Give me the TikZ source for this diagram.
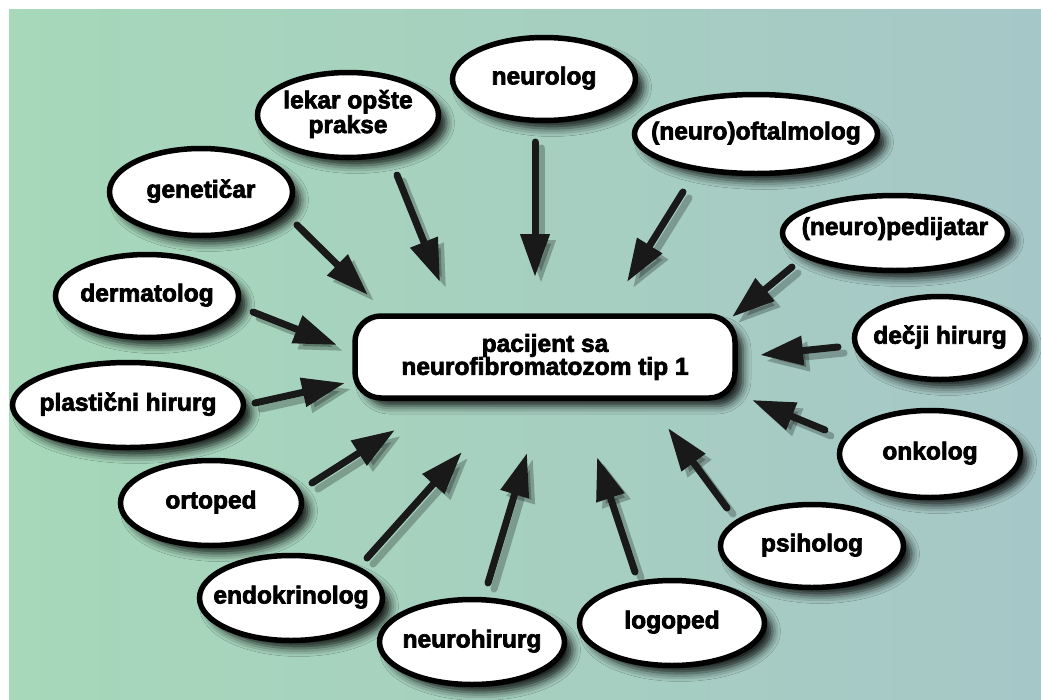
\documentclass[tikz,border=0pt]{standalone}
\usepackage{fontspec}
\setmainfont{Liberation Sans}
\usetikzlibrary{shapes.geometric,arrows.meta,shadows.blur}
\definecolor{bgL}{RGB}{166,216,185}
\definecolor{bgR}{RGB}{166,199,199}
\newcommand\heavyon{\special{pdf:literal direct 2 Tr 0.7 w}}
\newcommand\heavyoff{\special{pdf:literal direct 0 Tr}}
\newcommand\zw[1]{\makebox[0pt]{\begin{tabular}{@{}c@{}}#1\end{tabular}}}
\begin{document}
\begin{tikzpicture}[x=1pt,y=-1pt,
  lab/.style={font=\fontsize{24.5}{23}\selectfont\bfseries, align=center, text=black,
    execute at begin node=\heavyon, execute at end node=\heavyoff},
  ell/.style={lab, ellipse, draw=black, line width=5.5pt, fill=white, inner sep=0pt,
    blur shadow={shadow xshift=8pt, shadow yshift=-8pt, shadow blur radius=8pt, shadow opacity=85}},
  centerbox/.style={lab, rectangle, rounded corners=26pt, draw=black, line width=5.5pt, fill=white,
    inner sep=0pt, minimum width=380pt, minimum height=82pt,
    blur shadow={shadow xshift=8pt, shadow yshift=-8pt, shadow blur radius=8pt, shadow opacity=85}},
  arr/.style={line width=7pt, line cap=round, draw=black!90, -{Triangle[length=43pt,width=28pt]}},
  arrshade/.style={arr, draw=black, opacity=0.25, transform canvas={shift={(6,6)}}}
]
\useasboundingbox (0,0) rectangle (1041,699);
\fill[white] (0,0) rectangle (1041,699);
\shade[left color=bgL, right color=bgR] (9,9) rectangle (1041,699);

% arrow end points
\coordinate (s1) at (297,225);  \coordinate (e1) at (368,295);
\coordinate (s2) at (397,175);  \coordinate (e2) at (440,282);
\coordinate (s3) at (535,142);  \coordinate (e3) at (535,277);
\coordinate (s4) at (683,192);  \coordinate (e4) at (627,282);
\coordinate (s5) at (792,267);  \coordinate (e5) at (732,317);
\coordinate (s6) at (838,347);  \coordinate (e6) at (760,355);
\coordinate (s7) at (825,430);  \coordinate (e7) at (752,400);
\coordinate (s8) at (727,508);  \coordinate (e8) at (668,428);
\coordinate (s9) at (635,572);  \coordinate (e9) at (597,457);
\coordinate (s10) at (488,583); \coordinate (e10) at (527,453);
\coordinate (s11) at (367,558); \coordinate (e11) at (462,452);
\coordinate (s12) at (312,483); \coordinate (e12) at (395,430);
\coordinate (s13) at (255,403); \coordinate (e13) at (345,383);
\coordinate (s14) at (253,312); \coordinate (e14) at (337,345);

\foreach \i in {1,...,14} { \draw[arrshade] (s\i) -- (e\i); }
\foreach \i in {1,...,14} { \draw[arr] (s\i) -- (e\i); }

\node[centerbox] (pac) at (545,357) {pacijent sa\\neurofibromatozom tip 1};

\node[ell, minimum width=183pt, minimum height=87pt] (gen) at (201,192) {\zw{genetičar}};
\node[ell, minimum width=181pt, minimum height=85pt] (lek) at (348,115) {\zw{lekar opšte\\prakse}};
\node[ell, minimum width=183pt, minimum height=83pt] (neu) at (544,79) {\zw{neurolog}};
\node[ell, minimum width=243pt, minimum height=79pt] (oft) at (756,134) {\zw{(neuro)oftalmolog}};
\node[ell, minimum width=225pt, minimum height=75pt] (ped) at (895,233) {\zw{\raisebox{7pt}{(neuro)pedijatar}}};
\node[ell, minimum width=171pt, minimum height=83pt] (dec) at (940,338) {\zw{dečji hirurg}};
\node[ell, minimum width=181pt, minimum height=87pt] (onk) at (930,454) {\zw{onkolog}};
\node[ell, minimum width=183pt, minimum height=83pt] (psi) at (812,546) {\zw{psiholog}};
\node[ell, minimum width=185pt, minimum height=85pt] (log) at (672,623) {\zw{logoped}};
\node[ell, minimum width=183pt, minimum height=85pt] (end) at (291,598) {\zw{endokrinolog}};
\node[ell, minimum width=185pt, minimum height=85pt] (nhi) at (472,642) {\zw{neurohirurg}};
\node[ell, minimum width=181pt, minimum height=85pt] (ort) at (211,503) {\zw{ortoped}};
\node[ell, minimum width=231pt, minimum height=85pt] (pla) at (128,405) {\zw{plastični hirurg}};
\node[ell, minimum width=183pt, minimum height=83pt] (der) at (147,296) {\zw{dermatolog}};
\end{tikzpicture}
\end{document}
